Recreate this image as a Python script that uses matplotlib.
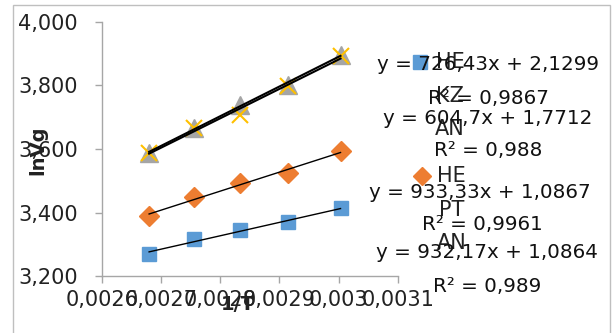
import matplotlib.pyplot as plt
import numpy as np
from matplotlib.lines import Line2D
from matplotlib.patches import Rectangle
from matplotlib.ticker import FuncFormatter, MultipleLocator

# 1/T values (K^-1) and lnVg for each solvent series
inv_t = [0.00268, 0.002755, 0.002833, 0.002915, 0.003003]
ln_vg_blue = [3.271, 3.316, 3.344, 3.370, 3.414]
ln_vg_orange = [3.391, 3.448, 3.492, 3.524, 3.594]
ln_vg_gray = [3.587, 3.667, 3.737, 3.802, 3.896]
ln_vg_yellow = [3.587, 3.667, 3.708, 3.799, 3.893]

legend_labels = ["HEKZAN", "HEPTAN"]
trend_texts = [
    "y = 726,43x + 2,1299", "R² = 0,9867",
    "y = 604,7x + 1,7712", "R² = 0,988",
    "y = 933,33x + 1,0867", "R² = 0,9961",
    "y = 932,17x + 1,0864", "R² = 0,989",
]

W, H = 614, 333
fig = plt.figure(figsize=(W / 100, H / 100), dpi=100)
plt.rcParams["font.family"] = ["DejaVu Sans"]


def px(x, y):
    # pixel -> figure fraction
    return x / W, 1 - y / H


left, top = px(101.7, 21.7)
right, bottom = px(398, 276.3)
ax = fig.add_axes([left, bottom, right - left, top - bottom])

x = np.array(inv_t)
series = [
    (ln_vg_blue, dict(marker="s", ms=10.5, color="#5b9bd5", mec="#5b9bd5"), 1.0),
    (ln_vg_orange, dict(marker="D", ms=10.5, color="#ed7d31", mec="#ed7d31"), 1.0),
    (ln_vg_gray, dict(marker="^", ms=13.5, color="#a5a5a5", mec="#a5a5a5"), 1.5),
    (ln_vg_yellow, dict(marker="x", ms=12, color="#ffc000", mew=1.5), 1.5),
]
for vals, style, lw in series:
    ax.plot(x, vals, ls="none", zorder=3, clip_on=False, **style)
for vals, style, lw in series:
    k, b = np.polyfit(x, vals, 1)
    ax.plot(x, k * x + b, color="black", lw=lw, zorder=4)

ax.set_xlim(0.0026, 0.0031)
ax.set_ylim(3.2, 4.0)
ax.xaxis.set_major_locator(MultipleLocator(0.0001))
ax.yaxis.set_major_locator(MultipleLocator(0.2))
ax.xaxis.set_major_formatter(
    FuncFormatter(lambda v, p: f"{v:.4f}".rstrip("0").replace(".", ",")))
ax.yaxis.set_major_formatter(
    FuncFormatter(lambda v, p: f"{v:.3f}".replace(".", ",")))

for s in ["top", "right"]:
    ax.spines[s].set_visible(False)
for s in ["left", "bottom"]:
    ax.spines[s].set_color("#a6a6a6")
    ax.spines[s].set_linewidth(1.0)
ax.tick_params(axis="both", direction="out", length=5, width=1,
               color="#a6a6a6", labelsize=15, labelcolor="#222222")
ax.tick_params(axis="y", pad=12)
ax.tick_params(axis="x", pad=5)
ax.set_facecolor("none")

# axis titles (overlap tick labels like the original)
fig.text(*px(38, 150), "lnVg", rotation=90, ha="center", va="center",
         fontsize=14, fontweight="bold", color="#222222")
fig.text(*px(238, 305), "1/T", ha="center", va="center",
         fontsize=14, fontweight="bold", color="#222222")

# legend entries with wrapped names
legend_pos = [(420, 62), (421.7, 176)]
legend_markers = [series[0][1], series[1][1]]
for (lx, ly), label, st in zip(legend_pos, legend_labels, legend_markers):
    mx, my = px(lx, ly)
    fig.add_artist(Line2D([mx], [my], ls="none", transform=fig.transFigure,
                          marker=st["marker"], ms=st["ms"] * 0.9,
                          color=st["color"], mec=st["mec"]))
    for i in range(3):
        fig.text(*px(lx + 30, ly + i * 33.5), label[2 * i:2 * i + 2],
                 ha="center", va="center", fontsize=15, color="#222222")

# trendline equations
trend_pos = [(488, 65), (488, 98), (488, 118), (488, 150),
             (480, 193), (482, 225), (487, 253), (487, 286)]
for (tx, ty), t in zip(trend_pos, trend_texts):
    fig.text(*px(tx, ty), t, ha="center", va="center", fontsize=14.3,
             color="#111111")

# chart area border
x0, y0 = px(13, 5)
x1, _ = px(610, 5)
fig.add_artist(Rectangle((x0, -0.02), x1 - x0, y0 + 0.02,
                         transform=fig.transFigure, fill=False,
                         ec="#bfbfbf", lw=1))

fig.savefig("out.png", dpi=100)
